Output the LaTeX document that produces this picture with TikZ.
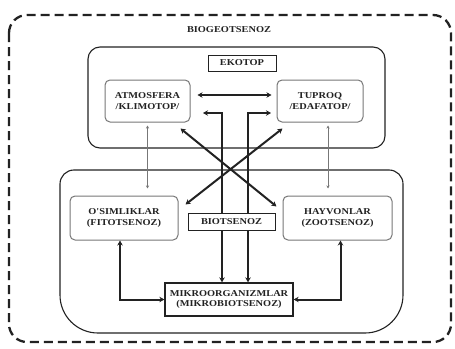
\documentclass[tikz,border=0pt]{standalone}
\usepackage{fontspec}
\setmainfont{Liberation Serif}
\newfontfamily\lblfont[FakeStretch=1.15]{Liberation Serif}
\usetikzlibrary{arrows.meta}
\definecolor{ink}{HTML}{222222}
\definecolor{soft}{HTML}{777777}
\begin{document}
\begin{tikzpicture}[x=1pt,y=-1pt,
  txt/.style={font=\lblfont\bfseries\fontsize{9}{10.5}\selectfont, text=ink, align=center, inner sep=0pt},
  rbox/.style={txt, draw=soft, line width=1pt, rounded corners=5pt},
  sbox/.style={txt, draw=ink, line width=1pt},
  arr/.style={draw=ink, line width=2pt, {Stealth[length=5pt,width=5.5pt]}-{Stealth[length=5pt,width=5.5pt]}},
  thin/.style={draw=soft, line width=1pt, {Stealth[length=3pt,width=3pt]}-{Stealth[length=3pt,width=3pt]}},
  frame/.style={draw=ink, line width=1.1pt}]
\useasboundingbox (0,0) rectangle (455,348);
\fill[white] (0,0) rectangle (455,348);
% outer dashed
\draw[ink, line width=2.3pt, dash pattern=on 9pt off 5pt, rounded corners=18pt] (9,15) rectangle (451,342);
\node[txt] (title) at (229,30) {BIOGEOTSENOZ};
% ekotop frame
\draw[frame, rounded corners=12pt] (88,47) rectangle (385,148);
% biotsenoz frame
\draw[frame] (60,184) to[out=90,in=180] (74,170) -- (389,170) to[out=0,in=90] (403,184)
  -- (403,295) to[out=-90,in=0] (365,333) -- (98,333) to[out=180,in=-90] (60,295) -- cycle;
% nodes
\node[sbox, minimum width=68pt, minimum height=16pt] (eko) at (242,63) {EKOTOP};
\node[rbox, minimum width=85pt, minimum height=42pt] (atm) at (147.5,101) {ATMOSFERA\\/KLIMOTOP/};
\node[rbox, minimum width=86pt, minimum height=42pt] (tup) at (320,101) {TUPROQ\\/EDAFATOP/};
\node[rbox, minimum width=108pt, minimum height=44pt] (osim) at (124,218) {O'SIMLIKLAR\\(FITOTSENOZ)};
\node[rbox, minimum width=109pt, minimum height=44pt] (hay) at (337.5,218) {HAYVONLAR\\(ZOOTSENOZ)};
\coordinate (la) at (203,113);
\coordinate (ra) at (271,113);
\node[sbox, line width=1.3pt, minimum width=128pt, minimum height=33pt] (mik) at (229,299.5) {MIKROORGANIZMLAR\\(MIKROBIOTSENOZ)};
% connectors
\draw[arr, shorten <=7pt, shorten >=5pt] ([yshift=6pt]atm.east) -- ([yshift=6pt]tup.west);
\draw[thin, shorten <=3pt, shorten >=7pt] (atm.south) -- (atm.south |- osim.north);
\draw[thin, shorten <=3pt, shorten >=7pt] ([xshift=8pt]tup.south) -- ([xshift=8pt]tup.south |- hay.north);
\draw[arr] (la) -| ([xshift=-7pt]mik.north);
\draw[arr] (ra) -| ([xshift=19pt]mik.north);
\node[sbox, fill=white, minimum width=87pt, minimum height=17pt] (bio) at (231.5,221.5) {BIOTSENOZ};
\draw[arr] ([xshift=-10pt,yshift=-6pt]atm.south east) -- ([xshift=-6pt,yshift=-11pt]hay.north west);
\draw[arr] ([xshift=6pt,yshift=-6pt]tup.south west) -- ([xshift=7pt,yshift=-9pt]osim.north east);
\draw[arr] ([xshift=-4pt]osim.south) |- (mik.west);
\draw[arr] ([xshift=3pt]hay.south) |- (mik.east);
\end{tikzpicture}
\end{document}
